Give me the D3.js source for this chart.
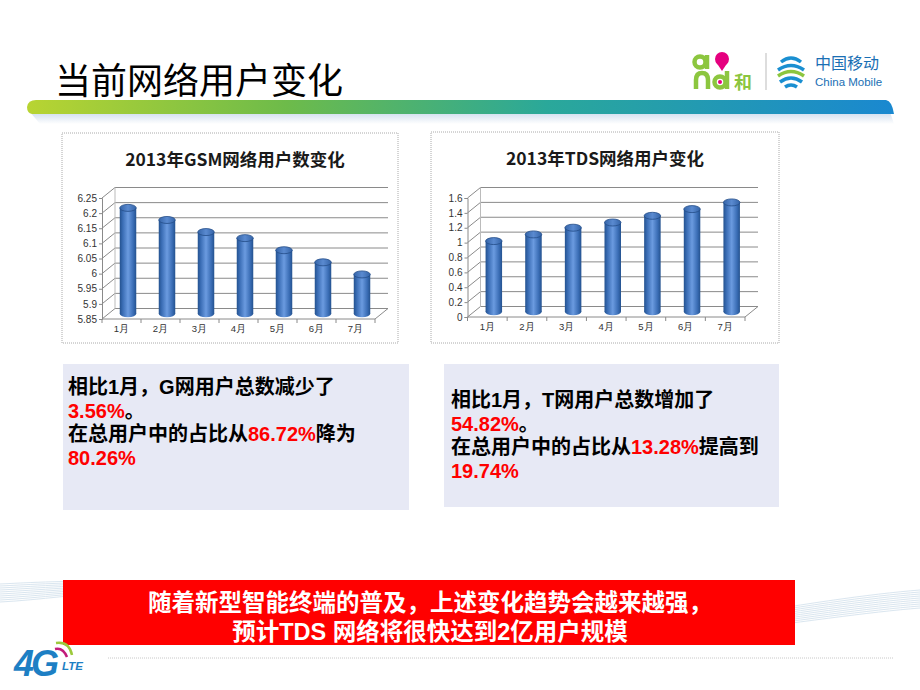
<!DOCTYPE html>
<html><head><meta charset="utf-8">
<script src="https://cdn.jsdelivr.net/npm/d3@7/dist/d3.min.js"></script>
<style>
html,body{margin:0;padding:0;background:#fff;}
svg{display:block;font-family:"Noto Sans CJK SC","Noto Sans",sans-serif;}
</style></head>
<body><svg id="c" width="920" height="690"></svg>
<script>
// ---------- data ----------
const months = ["1月","2月","3月","4月","5月","6月","7月"];
const gsmValues = [6.20, 6.16, 6.12, 6.10, 6.06, 6.02, 5.98];
const tdsValues = [0.95, 1.04, 1.13, 1.20, 1.29, 1.38, 1.47];
const gsmTicks = [5.85, 5.9, 5.95, 6, 6.05, 6.1, 6.15, 6.2, 6.25];
const tdsTicks = [0, 0.2, 0.4, 0.6, 0.8, 1, 1.2, 1.4, 1.6];
const gsmTitle = "2013年GSM网络用户数变化";
const tdsTitle = "2013年TDS网络用户变化";
const pageTitle = "当前网络用户变化";
const gsmNote = [[["相比1月，G网用户总数减少了","k"]],[["3.56%","r"],["。","k"]],[["在总用户中的占比从","k"],["86.72%","r"],["降为","k"]],[["80.26%","r"]]];
const tdsNote = [[["相比1月，T网用户总数增加了","k"]],[["54.82%","r"],["。","k"]],[["在总用户中的占比从","k"],["13.28%","r"],["提高到","k"]],[["19.74%","r"]]];
const bannerLines = ["随着新型智能终端的普及，上述变化趋势会越来越强，","预计TDS 网络将很快达到2亿用户规模"];

const tightFont = "'Liberation Sans','Noto Sans CJK SC',sans-serif";
const svg = d3.select("#c");
const defs = svg.append("defs");

// gradients
const hg = defs.append("linearGradient").attr("id","hdr").attr("x1","0").attr("x2","1");
[["0%","#b8d432"],["30%","#6dbb4a"],["60%","#2aa89a"],["100%","#1a88d0"]].forEach(s=>hg.append("stop").attr("offset",s[0]).attr("stop-color",s[1]));
const cg = defs.append("linearGradient").attr("id","cyl").attr("x1","0").attr("x2","1");
[["0%","#24528f"],["18%","#3a6db5"],["50%","#6b9be0"],["82%","#3a6db5"],["100%","#24528f"]].forEach(s=>cg.append("stop").attr("offset",s[0]).attr("stop-color",s[1]));
const tg = defs.append("linearGradient").attr("id","cyltop").attr("x1","0").attr("x2","1");
[["0%","#3464a8"],["50%","#5a8ad0"],["100%","#3464a8"]].forEach(s=>tg.append("stop").attr("offset",s[0]).attr("stop-color",s[1]));
const sh = defs.append("linearGradient").attr("id","shadow").attr("x1","0").attr("x2","0").attr("y1","0").attr("y2","1");
sh.append("stop").attr("offset","0%").attr("stop-color","#b8cde6");
sh.append("stop").attr("offset","100%").attr("stop-color","#ffffff");

// ---------- background swooshes ----------
const sw = svg.append("g").attr("fill","none").attr("stroke","#c9dbe9").attr("stroke-width",0.8).attr("opacity",0.85);
for(let i=0;i<10;i++){
  sw.append("path").attr("d",`M0,${584+i*2} C40,${582+i*2} 80,${580+i*1.5} 130,${582+i}`);
  sw.append("path").attr("d",`M700,${622+i*1.5} C800,${604+i*2} 870,${594+i*2} 920,${590+i*2}`);
}
svg.append("line").attr("x1",108).attr("x2",893).attr("y1",658).attr("y2",658).attr("stroke","#c8c8c8").attr("stroke-width",1).attr("stroke-dasharray","1,1");

// ---------- header ----------
svg.append("text").attr("x",55).attr("y",94).attr("font-size",36).attr("fill","#000").text(pageTitle);
svg.append("path").attr("d","M30,112 L890,112 L894,124 L40,124 Z").attr("fill","url(#shadow)").attr("opacity",0.7);
svg.append("path").attr("d","M27,107 Q28,100 36,100 L886,100 Q892,101 894,114 L32,114 Q27,113 27,107 Z").attr("fill","url(#hdr)");

// logos (graphic marks)
const lg = svg.append("g");
const green = "#8cc63f";
lg.append("circle").attr("cx",700).attr("cy",62).attr("r",5.5).attr("fill","none").attr("stroke",green).attr("stroke-width",4.5);
lg.append("line").attr("x1",707).attr("x2",707).attr("y1",55).attr("y2",69).attr("stroke",green).attr("stroke-width",4.5);
lg.append("circle").attr("cx",722).attr("cy",59).attr("r",7).attr("fill","#e5007f");
lg.append("path").attr("d","M716,62 L722,71 L728,62 Z").attr("fill","#e5007f");
lg.append("path").attr("d","M696,89 L696,80 Q696,73 702,73 Q708,73 708,80 L708,89").attr("fill","none").attr("stroke",green).attr("stroke-width",4.5);
lg.append("circle").attr("cx",720).attr("cy",82).attr("r",5.5).attr("fill","none").attr("stroke",green).attr("stroke-width",4.5);
lg.append("line").attr("x1",727).attr("x2",727).attr("y1",71).attr("y2",89).attr("stroke",green).attr("stroke-width",4.5);
lg.append("circle").attr("cx",720).attr("cy",82).attr("r",2).attr("fill","#e5007f");
lg.append("text").attr("x",734).attr("y",89).attr("font-size",18).attr("font-weight","bold").attr("fill",green).text("和");
lg.append("line").attr("x1",766).attr("x2",766).attr("y1",53).attr("y2",90).attr("stroke","#bbb");
const cm = lg.append("g").attr("transform","translate(791,71)").attr("fill","none").attr("stroke-width",3.5);
cm.append("path").attr("d","M-10,-9 Q0,-17 10,-9").attr("stroke","#1a8fd1");
cm.append("path").attr("d","M-13,-1 Q0,-10 13,-1").attr("stroke","#1a8fd1");
cm.append("path").attr("d","M-13,5 Q0,-4 13,5").attr("stroke","#8cc63f");
cm.append("path").attr("d","M-11,11 Q0,3 11,11").attr("stroke","#1a8fd1");
cm.append("path").attr("d","M-6,16 Q0,12 6,16").attr("stroke","#1a8fd1");
lg.append("text").attr("x",815).attr("y",69).attr("font-size",16).attr("fill","#1a6fb4").text("中国移动");
lg.append("text").attr("x",815).attr("y",86).attr("font-size",11.5).attr("fill","#1a6fb4").attr("font-family","Liberation Sans, sans-serif").text("China Mobile");

// ---------- charts ----------
function chart(opt){
  const g = svg.append("g");
  g.append("rect").attr("x",opt.box[0]).attr("y",opt.box[1]).attr("width",opt.box[2]).attr("height",opt.box[3])
    .attr("fill","#fff").attr("stroke","#aaa").attr("stroke-dasharray","1,1");
  g.append("text").attr("x",opt.titleX).attr("y",opt.titleY).attr("text-anchor","middle").attr("font-size",17.5)
    .attr("font-weight","bold").attr("fill","#1a1a1a").text(opt.title);
  const dx = 13, dy = 10.5;
  const x = d3.scaleBand().domain(months).range(opt.xr).padding(0);
  const y = d3.scaleLinear().domain(opt.domain).range(opt.yr);
  const x0 = opt.xr[0], x1 = opt.xr[1];
  opt.ticks.forEach(t=>{
    const yy = y(t);
    g.append("line").attr("x1",x0+dx).attr("x2",x1+dx).attr("y1",yy-dy).attr("y2",yy-dy).attr("stroke","#8a8a8a").attr("stroke-width",1);
    g.append("line").attr("x1",x0).attr("x2",x0+dx).attr("y1",yy).attr("y2",yy-dy).attr("stroke","#8a8a8a").attr("stroke-width",1);
  });
  g.append("line").attr("x1",x0+dx).attr("x2",x0+dx).attr("y1",y(opt.domain[1])-dy).attr("y2",y(opt.domain[0])-dy).attr("stroke","#bbb");
  const yb = y(opt.domain[0]);
  g.append("path").attr("d",`M${x0},${yb} L${x1},${yb} L${x1+dx},${yb-dy}`).attr("fill","none").attr("stroke","#8a8a8a");
  const ya = d3.axisLeft(y).tickValues(opt.ticks).tickSize(3).tickFormat(d3.format(""));
  const yg = g.append("g").attr("transform",`translate(${x0},0)`).call(ya);
  yg.select(".domain").attr("stroke","#8a8a8a");
  yg.selectAll(".tick line").attr("stroke","#8a8a8a");
  yg.selectAll("text").attr("font-size",10).attr("fill","#333").attr("font-family","Liberation Sans, Arial, sans-serif").attr("x",-5);
  const xa = d3.axisBottom(x).tickSize(0);
  const xg = g.append("g").attr("transform",`translate(0,${yb})`).call(xa);
  xg.select(".domain").remove();
  xg.selectAll("text").attr("font-size",9.5).attr("fill","#333").attr("dy","1.1em");
  months.forEach((m,i)=>{
    const xx = x0 + x.step()*(i+1);
    g.append("line").attr("x1",xx).attr("x2",xx).attr("y1",yb).attr("y2",yb+4).attr("stroke","#8a8a8a");
  });
  g.append("line").attr("x1",x0).attr("x2",x0).attr("y1",yb).attr("y2",yb+4).attr("stroke","#8a8a8a");
  const w = 16.5, ry = 3.5;
  opt.values.forEach((v,i)=>{
    const cx = x(months[i]) + x.bandwidth()/2 + dx/2;
    const top = y(v) - dy/2, bot = yb - dy/2;
    g.append("ellipse").attr("cx",cx).attr("cy",bot).attr("rx",w/2).attr("ry",ry).attr("fill","url(#cyl)");
    g.append("rect").attr("x",cx-w/2).attr("y",top).attr("width",w).attr("height",bot-top).attr("fill","url(#cyl)");
    g.append("ellipse").attr("cx",cx).attr("cy",top).attr("rx",w/2).attr("ry",ry).attr("fill","url(#cyltop)").attr("stroke","#234d88").attr("stroke-width",0.8);
  });
}
chart({box:[62,133,336,210],title:gsmTitle,titleX:235,titleY:166,values:gsmValues,ticks:gsmTicks,domain:[5.85,6.25],xr:[102,375],yr:[319,198]});
chart({box:[431,132,348,211],title:tdsTitle,titleX:605,titleY:165,values:tdsValues,ticks:tdsTicks,domain:[0,1.6],xr:[467.5,745],yr:[317,198]});

// ---------- note boxes ----------
function note(x,y,w,h,lines,tx,ty){
  svg.append("rect").attr("x",x).attr("y",y).attr("width",w).attr("height",h).attr("fill","#e7e9f5");
  lines.forEach((ln,i)=>{
    const t = svg.append("text").attr("x",tx).attr("y",ty+i*23.5).attr("font-size",20).attr("font-weight","bold").attr("font-family",tightFont);
    ln.forEach(seg=>t.append("tspan").attr("fill",seg[1]==="r"?"#ff0000":"#000").text(seg[0]));
  });
}
note(63,364,346,146,gsmNote,68,394);
note(444,364,335,143,tdsNote,451,407);

// ---------- banner ----------
svg.append("rect").attr("x",63).attr("y",580).attr("width",732).attr("height",65).attr("fill","#ff0000");
bannerLines.forEach((l,i)=>{
  svg.append("text").attr("x",430).attr("y",611+i*29).attr("text-anchor","middle").attr("font-size",23.5).attr("font-weight","bold").attr("fill","#fff").attr("font-family",tightFont).text(l);
});

// 4G LTE logo
const fg = svg.append("g");
fg.append("path").attr("d","M55,649 Q63,647 67,657").attr("fill","none").attr("stroke","#c21b7a").attr("stroke-width",2.5);
fg.append("path").attr("d","M56,643 Q69,641 72,655").attr("fill","none").attr("stroke","#9cc93b").attr("stroke-width",2.5);
fg.append("text").attr("x",14).attr("y",676).attr("font-size",36).attr("font-weight","bold").attr("font-style","italic").attr("fill","#1d7fc4").attr("font-family","Liberation Sans, sans-serif").attr("letter-spacing",-3).text("4G");
fg.append("text").attr("x",62).attr("y",670).attr("font-size",11.5).attr("font-weight","bold").attr("font-style","italic").attr("fill","#1d7fc4").attr("font-family","Liberation Sans, sans-serif").text("LTE");
</script></body></html>
